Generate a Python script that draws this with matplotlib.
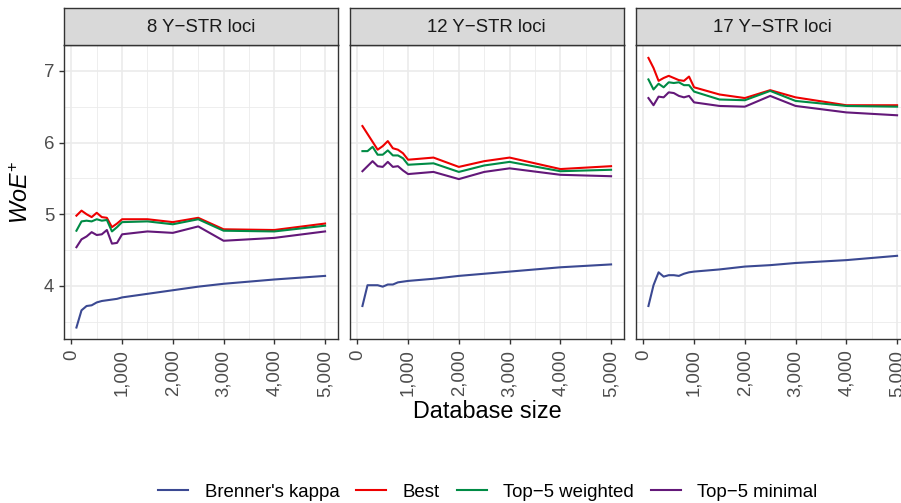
import matplotlib
matplotlib.use('Agg')
import matplotlib.pyplot as plt
from matplotlib.ticker import FuncFormatter, MultipleLocator

plt.rcParams['font.family'] = ['Liberation Sans', 'DejaVu Sans']
plt.rcParams['mathtext.fontset'] = 'custom'
plt.rcParams['mathtext.it'] = 'Liberation Sans:italic'
plt.rcParams['mathtext.rm'] = 'Liberation Sans'

# database sizes
db_size = [100, 200, 300, 400, 500, 600, 700, 800, 900, 1000,
           1500, 2000, 2500, 3000, 4000, 5000]

panels = ['8 Y\u2212STR loci', '12 Y\u2212STR loci', '17 Y\u2212STR loci']
methods = ["Brenner's kappa", 'Best', 'Top\u22125 weighted', 'Top\u22125 minimal']
colors = ['#3B4992', '#EE0000', '#008B45', '#631879']

# 8 loci
kappa_8 = [3.42, 3.66, 3.72, 3.73, 3.77, 3.79, 3.80, 3.81, 3.82, 3.84,
           3.89, 3.94, 3.99, 4.03, 4.09, 4.14]
best_8 = [4.98, 5.05, 5.00, 4.96, 5.02, 4.96, 4.95, 4.82, 4.87, 4.93,
          4.93, 4.89, 4.95, 4.79, 4.78, 4.87]
top5w_8 = [4.77, 4.90, 4.91, 4.90, 4.93, 4.91, 4.92, 4.76, 4.82, 4.89,
           4.90, 4.86, 4.93, 4.77, 4.76, 4.84]
top5m_8 = [4.54, 4.65, 4.69, 4.75, 4.71, 4.72, 4.78, 4.59, 4.60, 4.72,
           4.76, 4.74, 4.83, 4.63, 4.67, 4.76]

# 12 loci
kappa_12 = [3.72, 4.01, 4.01, 4.01, 3.99, 4.02, 4.02, 4.05, 4.06, 4.07,
            4.10, 4.14, 4.17, 4.20, 4.26, 4.30]
best_12 = [6.23, 6.12, 6.01, 5.90, 5.95, 6.02, 5.92, 5.90, 5.85, 5.76,
           5.79, 5.66, 5.74, 5.79, 5.63, 5.67]
top5w_12 = [5.88, 5.88, 5.94, 5.83, 5.83, 5.89, 5.82, 5.82, 5.78, 5.69,
            5.71, 5.59, 5.68, 5.73, 5.60, 5.62]
top5m_12 = [5.60, 5.67, 5.74, 5.67, 5.66, 5.73, 5.66, 5.67, 5.61, 5.56,
            5.59, 5.49, 5.59, 5.64, 5.55, 5.53]

# 17 loci
kappa_17 = [3.72, 4.01, 4.19, 4.13, 4.15, 4.15, 4.14, 4.17, 4.19, 4.20,
            4.23, 4.27, 4.29, 4.32, 4.36, 4.42]
best_17 = [7.18, 7.04, 6.86, 6.90, 6.93, 6.90, 6.87, 6.86, 6.92, 6.77,
           6.67, 6.62, 6.73, 6.63, 6.52, 6.52]
top5w_17 = [6.88, 6.74, 6.82, 6.77, 6.84, 6.83, 6.84, 6.80, 6.80, 6.71,
            6.60, 6.59, 6.72, 6.58, 6.51, 6.50]
top5m_17 = [6.62, 6.52, 6.64, 6.63, 6.70, 6.69, 6.65, 6.63, 6.65, 6.56,
            6.51, 6.50, 6.65, 6.51, 6.42, 6.38]

series = [
    [kappa_8, best_8, top5w_8, top5m_8],
    [kappa_12, best_12, top5w_12, top5m_12],
    [kappa_17, best_17, top5w_17, top5m_17],
]

W, H = 901, 503
fig = plt.figure(figsize=(W / 100, H / 100), dpi=100)

lefts = [64, 350, 636]
pw = 273.5
top, bottom = 45, 339
strip_top = 8
dark = '#333333'
grid_c = '#EBEBEB'
small = 13.4
big = 16.8

handles = []
for i, (left, title, data) in enumerate(zip(lefts, panels, series)):
    ax = fig.add_axes([left / W, (H - bottom) / H, pw / W, (bottom - top) / H])
    for vals, c, lab in zip(data, colors, methods):
        ln, = ax.plot(db_size, vals, color=c, lw=1.5, label=lab)
        if i == 0:
            handles.append(ln)
    ax.set_xlim(-145, 5245)
    ax.set_ylim(3.26, 7.36)
    ax.xaxis.set_major_locator(MultipleLocator(1000))
    ax.xaxis.set_minor_locator(MultipleLocator(500))
    ax.yaxis.set_major_locator(MultipleLocator(1))
    ax.yaxis.set_minor_locator(MultipleLocator(0.5))
    ax.xaxis.set_major_formatter(FuncFormatter(lambda v, p: f'{int(v):,}'))
    ax.grid(True, which='major', color=grid_c, lw=1.2, zorder=0)
    ax.grid(True, which='minor', color=grid_c, lw=0.6, zorder=0)
    ax.set_axisbelow(True)
    for s in ax.spines.values():
        s.set_color(dark)
        s.set_linewidth(1.0)
    ax.tick_params(which='minor', length=0)
    ax.tick_params(axis='x', which='major', length=3.6, width=1, color=dark,
                   labelsize=small, labelcolor='#4D4D4D', labelrotation=90, pad=4)
    if i == 0:
        ax.tick_params(axis='y', which='major', length=3.6, width=1, color=dark,
                       labelsize=small, labelcolor='#4D4D4D', pad=3.5)
    else:
        ax.tick_params(axis='y', which='major', length=0, labelleft=False)
    for lab in ax.get_xticklabels():
        lab.set_verticalalignment('top')
        lab.set_horizontalalignment('center')

    sax = fig.add_axes([left / W, (H - top) / H, pw / W, (top - strip_top) / H])
    sax.set_facecolor('#D9D9D9')
    sax.set_xticks([])
    sax.set_yticks([])
    for s in sax.spines.values():
        s.set_color(dark)
        s.set_linewidth(1.0)
    sax.text(0.5, 0.47, title, ha='center', va='center', fontsize=small,
             color='#1A1A1A', transform=sax.transAxes)

fig.text(22 / W, 1 - 192 / H, r'$\mathit{WoE}^{+}$', rotation=90,
         ha='center', va='center', fontsize=big)
fig.text(487 / W, 1 - 411 / H, 'Database size', ha='center', va='center',
         fontsize=big)

fig.legend(handles=handles, loc='center', bbox_to_anchor=(488 / W, 1 - 492 / H),
           ncol=4, frameon=False, fontsize=small, handlelength=1.6,
           handletextpad=0.9, columnspacing=0.9, borderaxespad=0)

fig.savefig('out.png', dpi=100)
